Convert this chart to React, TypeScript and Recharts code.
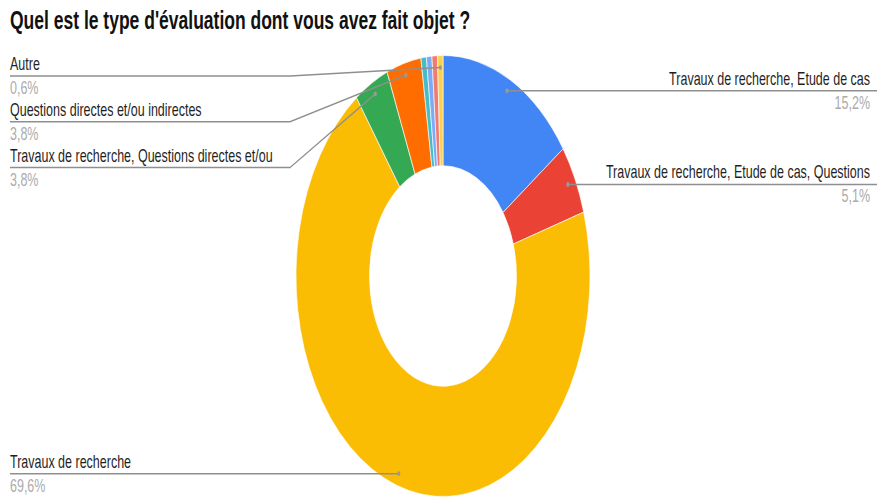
import { PieChart, Pie, Cell } from 'recharts'

const TITLE = "Quel est le type d'évaluation dont vous avez fait objet ?"

const CATEGORIES = [
  'Travaux de recherche, Etude de cas',
  'Travaux de recherche, Etude de cas, Questions',
  'Travaux de recherche',
  'Travaux de recherche, Questions directes et/ou',
  'Questions directes et/ou indirectes',
  '',
  '',
  '',
  'Autre',
]

const VALUES = [15.2, 5.1, 69.6, 3.8, 3.8, 0.6, 0.6, 0.6, 0.6]

const COLORS = [
  '#4285f4', '#ea4335', '#fbbc04', '#34a853', '#ff6d01',
  '#46bdc6', '#7baaf7', '#f07b72', '#fcd04f',
]

const data = CATEGORIES.map((name, i) => ({ name, value: VALUES[i] }))

// the reference is stretched vertically, so draw flat and scale the whole chart
const STRETCH = 1.5
const W = 877
const H = 333
const CX = 443
const CY = 184
const OUTER = 147
const INNER = 73.5
const DOT_OFFSET = 8
const LEFT_X = 10
const BEND_X = 290
const RIGHT_X = 872
const LEFT_MIN_Y = 50.7
const LEFT_GAP = 30.5
const RAD = Math.PI / 180

function midAngles() {
  const total = VALUES.reduce((a, b) => a + b, 0)
  let cum = 0
  return VALUES.map(v => {
    const start = 90 - (cum / total) * 360
    cum += v
    const end = 90 - (cum / total) * 360
    return (start + end) / 2
  })
}

// stack the labels on the left so they don't collide
function leftLineYs() {
  const r = OUTER - DOT_OFFSET
  const mids = midAngles()
  const items = mids
    .map((a, i) => ({ i, x: Math.cos(-a * RAD), y: CY + r * Math.sin(-a * RAD) }))
    .filter(d => CATEGORIES[d.i] && d.x < 0)
    .sort((a, b) => a.y - b.y)
  const out: Record<number, number> = {}
  let prev = -Infinity
  items.forEach(d => {
    const y = Math.max(d.y, LEFT_MIN_Y, prev + LEFT_GAP)
    out[d.i] = y
    prev = y
  })
  return out
}

const LEFT_Y = leftLineYs()

const fmt = (v: number) => `${v.toFixed(1).replace('.', ',')}%`

function renderLabel(props: any) {
  const { cx, cy, midAngle, outerRadius, index } = props
  const name = CATEGORIES[index]
  if (!name) return null
  const r = outerRadius - DOT_OFFSET
  const x = cx + r * Math.cos(-midAngle * RAD)
  const y = cy + r * Math.sin(-midAngle * RAD)
  const right = x > cx
  const lineY = right ? y : LEFT_Y[index] ?? y
  const points = right
    ? `${x},${y} ${RIGHT_X + 5},${y}`
    : `${LEFT_X},${lineY} ${BEND_X},${lineY} ${x},${y}`
  const tx = right ? RIGHT_X - 2 : LEFT_X
  const anchor = right ? 'end' : 'start'
  return (
    <g key={`lbl-${index}`}>
      <polyline points={points} fill="none" stroke="#8f8f8f" strokeWidth={1} />
      <circle cx={x} cy={y} r={1.6} fill="#9a9a9a" />
      <text x={tx} y={lineY - 4} textAnchor={anchor} fontSize={12.5} fill="#1f1f1f">
        {name}
      </text>
      <text x={tx} y={lineY + 12} textAnchor={anchor} fontSize={12.5} fill="#ababab">
        {fmt(VALUES[index])}
      </text>
    </g>
  )
}

export default function App() {
  return (
    <div
      style={{
        position: 'absolute',
        left: 0,
        top: 0,
        width: W,
        height: H,
        background: '#fff',
        transform: `scaleY(${STRETCH})`,
        transformOrigin: '0 0',
        fontFamily: '"Liberation Sans", Arial, sans-serif',
      }}
    >
      <div
        style={{
          position: 'absolute',
          left: 10,
          top: 3,
          fontSize: 17.5,
          fontWeight: 'bold',
          color: '#111',
          whiteSpace: 'nowrap',
        }}
      >
        {TITLE}
      </div>
      <PieChart
        width={W}
        height={H}
        margin={{ top: 0, right: 0, bottom: 0, left: 0 }}
        style={{ fontFamily: '"Liberation Sans", Arial, sans-serif' }}
      >
        <Pie
          data={data}
          dataKey="value"
          nameKey="name"
          cx={CX}
          cy={CY}
          innerRadius={INNER}
          outerRadius={OUTER}
          startAngle={90}
          endAngle={-270}
          stroke="#fff"
          strokeWidth={0.5}
          label={renderLabel}
          labelLine={false}
          isAnimationActive={false}
        >
          {data.map((d, i) => (
            <Cell key={d.name + i} fill={COLORS[i]} />
          ))}
        </Pie>
      </PieChart>
    </div>
  )
}
